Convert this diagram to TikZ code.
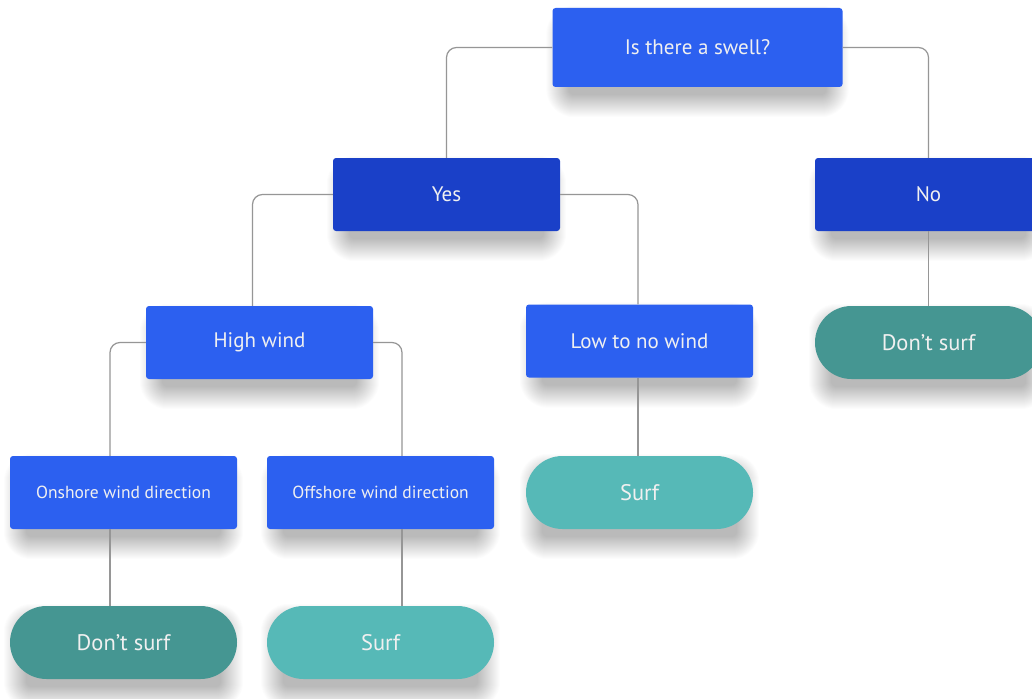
\documentclass[tikz,border=0pt]{standalone}
\usepackage{fontspec}
\setmainfont{PT Sans}
\pgfdeclarelayer{paper}
\pgfdeclarelayer{shadelayer}
\pgfsetlayers{paper,shadelayer,main}
\definecolor{bblue}{RGB}{44,96,240}
\definecolor{dblue}{RGB}{26,64,200}
\definecolor{dteal}{RGB}{69,150,146}
\definecolor{lteal}{RGB}{86,185,183}
\definecolor{linec}{RGB}{150,150,150}
\tikzset{
  boxbase/.style={minimum width=227pt, minimum height=73pt, inner sep=0pt, text=white!94!black, font=\fontsize{21}{24}\selectfont},
  qbox/.style={boxbase, fill=bblue, rounded corners=3pt},
  abox/.style={boxbase, fill=dblue, rounded corners=3pt},
  smallbox/.style={qbox, font=\fontsize{17.5}{20}\selectfont},
  nopill/.style={boxbase, fill=dteal, rounded corners=36.5pt, font=\fontsize{22.5}{26}\selectfont},
  yespill/.style={boxbase, fill=lteal, rounded corners=36.5pt, font=\fontsize{22.5}{26}\selectfont},
  conn/.style={draw=linec, line width=1.2pt, rounded corners=10pt},
  shadowlayer/.style={fill=black, opacity=0.0105}
}
\begin{document}
\begin{tikzpicture}[x=1pt,y=-1pt]
\clip (0,0) rectangle (1032,698);
\begin{pgfonlayer}{paper}
\fill[white] (0,0) rectangle (1032,698);
\end{pgfonlayer}
\node[qbox, minimum width=290pt, minimum height=79pt] (swell) at (697.5,47.5) {Is there a swell?};
\node[abox] (yes) at (446.5,194.5) {Yes};
\node[abox] (no) at (928.5,194.5) {No};
\node[qbox] (high) at (259.5,342.5) {High wind};
\node[qbox] (low) at (639.5,341) {Low to no wind};
\node[nopill] (dont0) at (928.5,342.5) {Don’t surf};
\node[smallbox] (on) at (123.5,492.5) {Onshore wind direction};
\node[smallbox] (off) at (380.5,492.5) {Offshore wind direction};
\node[yespill] (surf0) at (639.5,492.5) {Surf};
\node[nopill] (dont1) at (123.5,642.5) {Don’t surf};
\node[yespill] (surf1) at (380.5,642.5) {Surf};
\begin{pgfonlayer}{shadelayer}
\foreach \n in {swell,yes,no,high,low,dont0,on,off,surf0,dont1,surf1}{
  \foreach \i in {0,...,22}{
    \fill[shadowlayer, rounded corners=\i pt+6pt]
      ([shift={(16-\i,20-\i)}]\n.north west) rectangle ([shift={(-16+\i,8+\i)}]\n.south east);
  }
}
\end{pgfonlayer}
\draw[conn] (swell.west) -| (yes.north);
\draw[conn] (swell.east) -| (no.north);
\draw[conn] (yes.west) -| ([xshift=-7pt]high.north);
\draw[conn] (yes.east) -| ([xshift=-1.5pt]low.north);
\draw[conn] (high.west) -| ([xshift=-13.5pt]on.north);
\draw[conn] (high.east) -| ([xshift=21.5pt]off.north);
\draw[conn] ([xshift=-13.5pt]on.south) -- ([xshift=-13.5pt]dont1.north);
\draw[conn] ([xshift=21.5pt]off.south) -- ([xshift=21.5pt]surf1.north);
\draw[conn] ([xshift=-1.5pt]low.south) -- ([xshift=-1.5pt]surf0.north);
\draw[conn] (no.south) -- (dont0.north);
\end{tikzpicture}
\end{document}
